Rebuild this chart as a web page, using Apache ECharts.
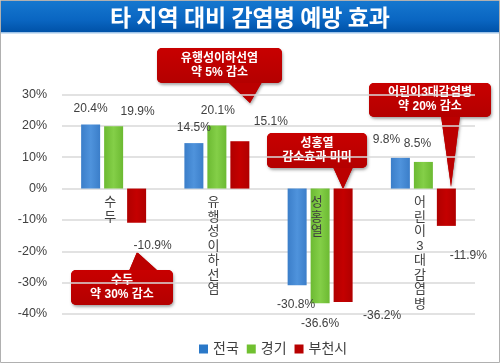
<!DOCTYPE html>
<html><head><meta charset="utf-8">
<script src="https://cdn.jsdelivr.net/npm/echarts@6/dist/echarts.min.js"></script>
<style>html,body{margin:0;padding:0;background:#fff}#c{width:500px;height:363px}</style>
</head><body><div id="c"></div>
<script>
var categories = ['수두', '유행성이하선염', '성홍열', '어린이3대감염병'];
var seriesNames = ['전국', '경기', '부천시'];
var nationValues = [20.4, 14.5, -30.8, 9.8];
var gyeonggiValues = [19.9, 20.1, -36.6, 8.5];
var bucheonValues = [-10.9, 15.1, -36.2, -11.9];
var yTicks = [-40, -30, -20, -10, 0, 10, 20, 30];
var titleText = '타 지역 대비 감염병 예방 효과';
var callouts = [
  ['유행성이하선염', '약 5% 감소'],
  ['성홍열', '감소효과 미미'],
  ['어린이3대감염병', '약 20% 감소'],
  ['수두', '약 30% 감소']
];

// label nudges (layout only)
var labelOffsets = [
  [[0,-9],[0,-8],[-1,13],[-14,-11]],
  [[24,-7],[1,-8],[0,13],[-6,-11]],
  [[16,16],[31,-13],[39,7],[22,23]]
];
var colors = [
  new echarts.graphic.LinearGradient(0,0,1,0,[{offset:0,color:'#3b7ec9'},{offset:0.5,color:'#4f93dc'},{offset:1,color:'#3b7ec9'}]),
  new echarts.graphic.LinearGradient(0,0,1,0,[{offset:0,color:'#6cba32'},{offset:0.5,color:'#84cf48'},{offset:1,color:'#6cba32'}]),
  new echarts.graphic.LinearGradient(0,0,1,0,[{offset:0,color:'#b00000'},{offset:0.5,color:'#c40000'},{offset:1,color:'#b00000'}])
];
var legendColors = ['#2a78c8', '#70c030', '#b80000'];
var FONT = "'Liberation Sans', 'Noto Sans CJK KR', sans-serif";
var allValues = [nationValues, gyeonggiValues, bucheonValues];

var series = allValues.map(function (vals, si) {
  return {
    name: seriesNames[si],
    type: 'bar',
    barWidth: 19,
    barGap: '21%',
    itemStyle: { color: colors[si] },
    data: vals.map(function (v, ci) {
      return {
        value: v,
        label: { offset: labelOffsets[si][ci] }
      };
    }),
    label: {
      show: true,
      position: 'outside',
      distance: 0,
      lineHeight: 14,
      fontSize: 12,
      fontFamily: FONT,
      color: '#404040',
      formatter: function (p) { return p.value.toFixed(1) + '%'; }
    }
  };
});

function callout(x, y, w, h, tri, lines) {
  return {
    type: 'group',
    z: 20,
    children: [
      { type: 'polygon', shape: { points: tri },
        style: { fill: '#c00000', shadowBlur: 3, shadowColor: 'rgba(0,0,0,0.35)', shadowOffsetX: 1, shadowOffsetY: 2 } },
      { type: 'rect', shape: { x: x, y: y, width: w, height: h, r: 5 },
        style: { fill: '#c00000', shadowBlur: 3, shadowColor: 'rgba(0,0,0,0.35)', shadowOffsetX: 1, shadowOffsetY: 2 } },
      { type: 'polygon', shape: { points: tri }, style: { fill: '#bb0000' } },
      { type: 'rect', shape: { x: x, y: y, width: w, height: h, r: 5 },
        style: { fill: new echarts.graphic.LinearGradient(0,0,0,1,[{offset:0,color:'#c80000'},{offset:1,color:'#b40000'}]) } },
      { type: 'text', x: x + w / 2, y: y + h / 2,
        style: { text: lines.join('\n'), fill: '#fff', font: 'bold 12px ' + FONT,
                 lineHeight: 14, align: 'center', verticalAlign: 'middle' } }
    ]
  };
}

var chart = echarts.init(document.getElementById('c'), null, { renderer: 'canvas' });
chart.setOption({
  animation: false,
  backgroundColor: '#ffffff',
  color: legendColors,
  grid: { left: 62, right: 25, top: 94.5, bottom: 49, containLabel: false, outerBoundsMode: 'none' },
  legend: {
    data: seriesNames.map(function (n, i) { return { name: n, itemStyle: { color: legendColors[i] } }; }),
    left: 194, top: 337,
    icon: 'rect', itemWidth: 9, itemHeight: 9, itemGap: 8,
    textStyle: { fontSize: 14, color: '#404040', fontFamily: FONT }
  },
  xAxis: {
    type: 'category',
    data: categories,
    z: 5,
    offset: 0,
    axisLine: { show: false, onZero: false },
    axisTick: { show: false },
    axisLabel: {
      interval: 0,
      margin: 7,
      fontSize: 13,
      lineHeight: 14.5,
      color: '#404040',
      fontFamily: FONT,
      padding: [0, 7, 0, 0],
      formatter: function (v) { return v.split('').join('\n'); }
    }
  },
  yAxis: {
    type: 'value',
    min: yTicks[0],
    max: yTicks[yTicks.length - 1],
    interval: 10,
    axisLine: { show: false },
    axisTick: { show: false },
    splitLine: { lineStyle: { color: '#d9d9d9', width: 1.5 } },
    axisLabel: {
      margin: 15, fontSize: 12.5, color: '#404040', fontFamily: FONT,
      formatter: function (v) { return v + '%'; }
    }
  },
  series: series,
  graphic: [
    { type: 'rect', z: 10, shape: { x: 0.5, y: 0.5, width: 499, height: 362 },
      style: { fill: 'none', stroke: '#b0b0b0', lineWidth: 1 } },
    { type: 'rect', z: 9, shape: { x: 1, y: 1, width: 498, height: 31 },
      style: { fill: new echarts.graphic.LinearGradient(0,0,0,1,[{offset:0,color:'#1577cf'},{offset:0.6,color:'#0a66c2'},{offset:1,color:'#0052a8'}]) } },
    { type: 'rect', z: 9, shape: { x: 1, y: 32, width: 498, height: 1.5 },
      style: { fill: '#9ec3e8' } },
    { type: 'text', z: 11, x: 250, y: 17,
      style: { text: titleText, fill: '#ffffff', font: 'bold 23px "Noto Sans CJK KR", sans-serif',
               align: 'center', verticalAlign: 'middle' } },
    callout(157, 48, 125, 35, [[228,82],[262,82],[250,103]], callouts[0]),
    callout(267, 133, 100, 35, [[333,167],[353,167],[343,189]], callouts[1]),
    callout(369, 83, 122, 34, [[441,116],[460,116],[451,187]], callouts[2]),
    callout(71, 270, 102, 35, [[129,271],[158,271],[137,252]], callouts[3])
  ]
});
// place category labels at the zero line, derived from the value scale
var zeroY = chart.convertToPixel({ yAxisIndex: 0 }, 0);
var baseY = chart.convertToPixel({ yAxisIndex: 0 }, yTicks[0]);
chart.setOption({ xAxis: { offset: zeroY - baseY } });
</script></body></html>
